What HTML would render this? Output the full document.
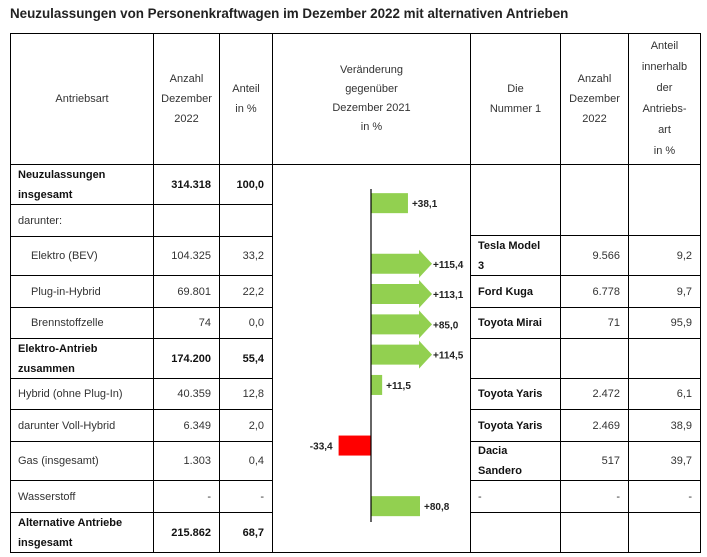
<!DOCTYPE html>
<html><head><meta charset="utf-8">
<style>
body{margin:0;width:707px;height:557px;background:#fff;position:relative;overflow:hidden;font-family:"Liberation Sans",Arial,sans-serif;}
.c{position:absolute;box-sizing:border-box;border:1px solid #000;font-size:11px;color:#333;display:flex;align-items:center;line-height:20px;}
.b{font-weight:bold;color:#111;}
.r{justify-content:flex-end;padding-right:8px;text-align:right;}
.l{justify-content:flex-start;padding-left:7px;}
.ctr{justify-content:center;text-align:center;}
#title{position:absolute;left:10px;top:6px;font-size:13.4px;font-weight:bold;color:#222;}
</style></head><body>
<div id="title">Neuzulassungen von Personenkraftwagen im Dezember 2022 mit alternativen Antrieben</div>
<div id="tbl"></div>
<svg id="chart" width="707" height="557" style="position:absolute;left:0;top:0;pointer-events:none"></svg>
<script>
// Chart data
const categories = ["Neuzulassungen insgesamt","darunter","Elektro (BEV)","Plug-in-Hybrid","Brennstoffzelle","Elektro-Antrieb zusammen","Hybrid (ohne Plug-In)","darunter Voll-Hybrid","Gas (insgesamt)","Wasserstoff","Alternative Antriebe insgesamt"];
const changes = [38.1,null,115.4,113.1,85.0,114.5,11.5,null,-33.4,null,80.8];
const changeLabels = ["+38,1","","+115,4","+113,1","+85,0","+114,5","+11,5","","-33,4","","+80,8"];
const clipped = [false,false,true,true,true,true,false,false,false,false,false];

// Table layout
const X=[10,153,219,272,470,560,628,700];
const LY=[164,204,236,275,307,338,378,409,441,480,512,552];
const RY=[164,235,275,307,338,378,409,441,480,512,552];
const leftRows=[
 ["Neuzulassungen<br>insgesamt","314.318","100,0",true,false],
 ["darunter:","","",false,false],
 ["Elektro (BEV)","104.325","33,2",false,true],
 ["Plug-in-Hybrid","69.801","22,2",false,true],
 ["Brennstoffzelle","74","0,0",false,true],
 ["Elektro-Antrieb<br>zusammen","174.200","55,4",true,false],
 ["Hybrid (ohne Plug-In)","40.359","12,8",false,false],
 ["darunter Voll-Hybrid","6.349","2,0",false,false],
 ["Gas (insgesamt)","1.303","0,4",false,false],
 ["Wasserstoff","-","-",false,false],
 ["Alternative Antriebe<br>insgesamt","215.862","68,7",true,false]
];
const rightRows=[["","",""],["Tesla Model<br>3","9.566","9,2"],["Ford Kuga","6.778","9,7"],["Toyota Mirai","71","95,9"],["","",""],["Toyota Yaris","2.472","6,1"],["Toyota Yaris","2.469","38,9"],["Dacia<br>Sandero","517","39,7"],["-","-","-"],["","",""]];
const tbl=document.getElementById('tbl');
function cell(x1,y1,x2,y2,html,cls,name){
 const el=document.createElement('div');
 el.className='c '+cls;
 el.style.left=x1+'px';el.style.top=y1+'px';el.style.width=(x2-x1+1)+'px';el.style.height=(y2-y1+1)+'px';
 el.innerHTML=html;
 
 
 tbl.appendChild(el);return el;
}
cell(X[0],33,X[1],LY[0],"Antriebsart","ctr","header-antriebsart");
cell(X[1],33,X[2],LY[0],"Anzahl<br>Dezember<br>2022","ctr","header-anzahl");
cell(X[2],33,X[3],LY[0],"Anteil<br>in %","ctr","header-anteil");
cell(X[3],33,X[4],LY[0],"Veränderung<br>gegenüber<br>Dezember 2021<br>in %","ctr","header-veraenderung").style.lineHeight='19px';
cell(X[4],33,X[5],LY[0],"Die<br>Nummer 1","ctr","header-nummer-1");
cell(X[5],33,X[6],LY[0],"Anzahl<br>Dezember<br>2022","ctr","header-anzahl-nr1");
cell(X[6],33,X[7],LY[0],"Anteil<br>innerhalb<br>der<br>Antriebs-<br>art<br>in %","ctr","header-anteil-antriebsart").style.lineHeight='21px';
leftRows.forEach((r,i)=>{
 const b=r[3]?' b':'';
 const a=cell(X[0],LY[i],X[1],LY[i+1],r[0],'l'+b,'row-label-'+i);
 if(r[4])a.style.paddingLeft='20px';
 cell(X[1],LY[i],X[2],LY[i+1],r[1],'r'+b,'row-count-'+i);
 cell(X[2],LY[i],X[3],LY[i+1],r[2],'r'+b,'row-share-'+i);
});
cell(X[3],LY[0],X[4],552,"","","chart-cell");
rightRows.forEach((r,i)=>{
 const bold = r[0]==='-' ? '' : ' b';
 cell(X[4],RY[i],X[5],RY[i+1],r[0],'l'+bold,'top-model-'+i);
 cell(X[5],RY[i],X[6],RY[i+1],r[1],'r','top-model-count-'+i);
 cell(X[6],RY[i],X[7],RY[i+1],r[2],'r','top-model-share-'+i);
});

// Chart
const NS='http://www.w3.org/2000/svg';
const svg=document.getElementById('chart');
const x0=371, top0=188, slot=30.3, pxPerUnit=0.97, capW=48, maxBar=49, barH=20;
function xScale(v){return x0+Math.max(-maxBar,Math.min(maxBar,v*pxPerUnit));}
function yScale(i){return top0+slot*(i+0.5);}
function add(tag,attrs){const e=document.createElementNS(NS,tag);for(const k in attrs)e.setAttribute(k,attrs[k]);svg.appendChild(e);return e;}
changes.forEach((v,i)=>{
 if(v===null)return;
 const cy=yScale(i);
 let el,endX;
 if(clipped[i]){
  const bx=x0+capW, tip=bx+13;
  el=add('polygon',{points:`${x0},${cy-10} ${bx},${cy-10} ${bx},${cy-14} ${tip},${cy} ${bx},${cy+14} ${bx},${cy+10} ${x0},${cy+10}`,fill:'#92d050'});
  endX=tip;
 }else{
  const xe=xScale(v);
  el=add('rect',{x:Math.min(x0,xe),y:cy-barH/2,width:Math.abs(xe-x0),height:barH,fill:v<0?'#ff0000':'#92d050'});
  endX=xe;
 }
 
 
 const t=add('text',{x:v<0?endX-6:endX+(clipped[i]?1:4),y:cy+4,'font-size':'10','font-weight':'bold',fill:'#222','font-family':'Liberation Sans, Arial, sans-serif','text-anchor':v<0?'end':'start'});
 t.textContent=changeLabels[i];
 
 
});
const ax=add('line',{x1:x0,x2:x0,y1:189,y2:522,stroke:'#000','stroke-width':1.2});


</script>
</body></html>
